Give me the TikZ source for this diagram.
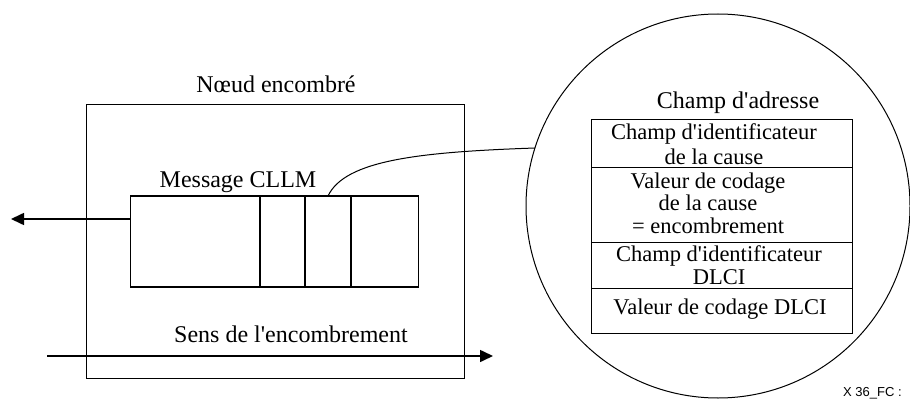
\documentclass[tikz,border=0pt]{standalone}
\usepackage{fontspec}
\setmainfont{Liberation Serif}
\newfontfamily\labsans{Liberation Sans}
\usetikzlibrary{arrows.meta}
\newcommand{\q}{\textquotesingle}
\begin{document}
\begin{tikzpicture}[x=1pt,y=-1pt,
  thinline/.style={line width=1pt},
  boxline/.style={line width=1.2pt},
  arrowline/.style={line width=1.6pt,-{Triangle[length=13pt,width=12pt]}},
  lab/.style={inner sep=0pt,anchor=base,font=\fontsize{24}{26}\selectfont},
  cell/.style={inner sep=0pt,align=center,font=\fontsize{22.5}{23.5}\selectfont},
]
\useasboundingbox (0,0) rectangle (910,401);
% outer node box
\node[draw,thinline,minimum width=378pt,minimum height=273pt,inner sep=0pt] (noeud) at (275,241.5) {};
\node[lab] (noeudlab) at (276,93) {Nœud encombré};
% message CLLM
\node[draw,boxline,minimum width=288pt,minimum height=91pt,inner sep=0pt] (msg) at (274.75,241.5) {};
\draw[boxline] (260,196) -- (260,287) (305,196) -- (305,287) (351,196) -- (351,287);
\coordinate (cellc) at (328,196);
\node[lab] (msglab) at (238,187) {Message CLLM};
% left arrow
\coordinate (leftend) at (11,219);
\draw[arrowline] (msg.west |- leftend) -- (leftend);
% bottom arrow
\coordinate (bstart) at (47,356);
\coordinate (bend) at (493,356);
\draw[arrowline] (bstart) -- (bend);
\node[lab] (senslab) at (291,342) {Sens de l\q encombrement};
% circle
\node[draw,thinline,circle,minimum size=384pt,inner sep=0pt] (zoomc) at (718,206) {};
\coordinate (circpt) at (535,148);
\draw[thinline] (cellc) .. controls (345,160) and (420,152) .. (circpt);
% address field table
\node[lab] (adrlab) at (738,109) {Champ d\q adresse};
\node[draw,thinline,minimum width=261pt,minimum height=47pt,inner sep=0pt] (r1) at (721.5,143.5) {};
\node[draw,thinline,minimum width=261pt,minimum height=75pt,inner sep=0pt] (r2) at (721.5,204.5) {};
\node[draw,thinline,minimum width=261pt,minimum height=46pt,inner sep=0pt] (r3) at (721.5,265) {};
\node[draw,thinline,minimum width=261pt,minimum height=45pt,inner sep=0pt] (r4) at (721.5,310.5) {};
\node[cell] (t1) at (714,144.5) {Champ d\q identificateur\\[1.5pt]de la cause};
\node[cell] (t2) at (708,203.5) {Valeur de codage\\[-1pt]de la cause\\[-0.5pt]= encombrement};
\node[cell] (t3) at (719,265) {Champ d\q identificateur\\DLCI};
\node[cell] (t4) at (720,309) {Valeur de codage DLCI};
% figure reference
\node[inner sep=0pt,anchor=base west,font=\labsans\fontsize{13}{14}\selectfont] (figref) at (843,396) {X 36\_FC :};
\end{tikzpicture}
\end{document}
